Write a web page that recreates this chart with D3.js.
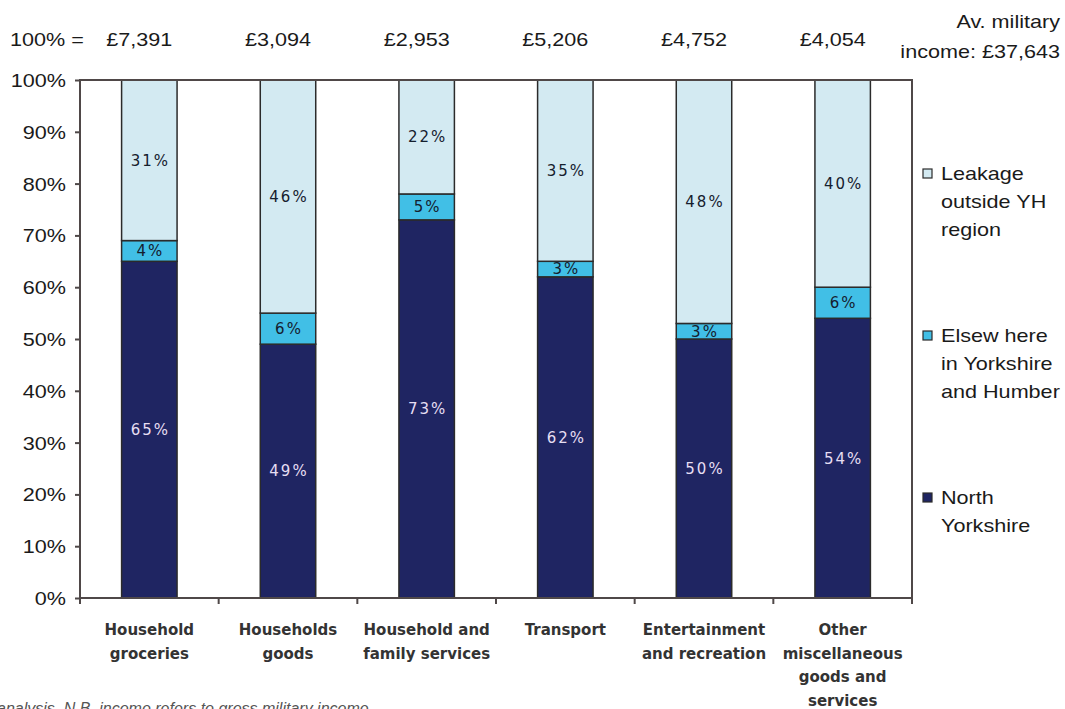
<!DOCTYPE html>
<html>
<head>
<meta charset="utf-8">
<script src="https://cdn.jsdelivr.net/npm/d3@7"></script>
<style>
  html, body { margin: 0; padding: 0; background: #fff; }
  svg { display: block; }
</style>
</head>
<body>
<svg id="chart" width="1065" height="709"></svg>
<script>
// Spending categories (line-wrapped for the axis)
const categories = [
  ["Household", "groceries"],
  ["Households", "goods"],
  ["Household and", "family services"],
  ["Transport"],
  ["Entertainment", "and recreation"],
  ["Other", "miscellaneous", "goods and", "services"]
];
// Annual spend per category (100% of each bar)
const totals = ["£7,391", "£3,094", "£2,953", "£5,206", "£4,752", "£4,054"];
// Share of spend by where it lands (%)
const northYorkshire = [65, 49, 73, 62, 50, 54];
const elsewhereYH = [4, 6, 5, 3, 3, 6];
const leakage = [31, 46, 22, 35, 48, 40];
const yTicks = [0, 10, 20, 30, 40, 50, 60, 70, 80, 90, 100];

const seriesKeys = ["north", "elsewhere", "leakage"];
const seriesNames = {
  leakage: ["Leakage", "outside YH", "region"],
  elsewhere: ["Elsew here", "in Yorkshire", "and Humber"],
  north: ["North", "Yorkshire"]
};
const colors = { north: "#1f2562", elsewhere: "#41bfe6", leakage: "#d3eaf2" };
const labelColors = { north: "#e6def2", elsewhere: "#15202e", leakage: "#15202e" };

const rows = categories.map((c, i) => ({
  idx: i,
  north: northYorkshire[i],
  elsewhere: elsewhereYH[i],
  leakage: leakage[i]
}));

const svg = d3.select("#chart");
const plotLeft = 80, plotRight = 912, plotTop = 80, plotBottom = 598;
const SANS = "Liberation Sans, Arial, sans-serif";
const WIDE = 1.2; // horizontal stretch of the Arial-style texts

// Adds a horizontally stretched text at (x, y)
function wideText(parent, x, y, str, anchor) {
  return parent.append("text")
    .attr("transform", `translate(${x},${y}) scale(${WIDE},1)`)
    .attr("text-anchor", anchor || "start")
    .text(str);
}

const x = d3.scaleBand()
  .domain(rows.map(d => d.idx))
  .range([plotLeft, plotRight])
  .paddingInner(0.6)
  .paddingOuter(0.3);
const y = d3.scaleLinear().domain([0, 100]).range([plotBottom, plotTop]);

svg.append("defs").append("clipPath").attr("id", "plot")
  .append("rect").attr("x", plotLeft).attr("y", plotTop)
  .attr("width", plotRight - plotLeft).attr("height", plotBottom - plotTop);

const stack = d3.stack().keys(seriesKeys)(rows);

const layers = svg.append("g").attr("clip-path", "url(#plot)")
  .selectAll("g").data(stack).join("g");

layers.selectAll("rect").data(s => s.map(p => ({ key: s.key, p })))
  .join("rect")
  .attr("x", d => x(d.p.data.idx))
  .attr("width", x.bandwidth())
  .attr("y", d => y(Math.min(100, d.p[1])))
  .attr("height", d => y(d.p[0]) - y(Math.min(100, d.p[1])))
  .attr("fill", d => colors[d.key])
  .attr("stroke", "#2b2b2b")
  .attr("stroke-width", 1.5);

// Value labels centred in each segment
const labels = svg.append("g")
  .attr("font-family", "DejaVu Sans, Verdana, sans-serif")
  .attr("font-size", 15)
  .attr("letter-spacing", 2)
  .attr("text-anchor", "middle");
stack.forEach(s => {
  s.forEach(p => {
    const segTop = Math.min(100, p[1]);
    labels.append("text")
      .attr("x", x(p.data.idx) + x.bandwidth() / 2 + 1)
      .attr("y", y((p[0] + segTop) / 2))
      .attr("dy", "0.36em")
      .attr("fill", labelColors[s.key])
      .text(p.data[s.key] + "%");
  });
});

// Plot frame
svg.append("rect")
  .attr("x", plotLeft).attr("y", plotTop)
  .attr("width", plotRight - plotLeft).attr("height", plotBottom - plotTop)
  .attr("fill", "none").attr("stroke", "#4f4848").attr("stroke-width", 2);

// Y axis: ticks from the axis generator, labels stretched like the rest
const yAxis = svg.append("g")
  .attr("transform", `translate(${plotLeft},0)`)
  .call(d3.axisLeft(y).tickValues(yTicks).tickFormat(d => d + "%").tickSize(5).tickPadding(8));
yAxis.select(".domain").remove();
yAxis.selectAll(".tick line").attr("stroke", "#4f4848").attr("stroke-width", 2);
yAxis.selectAll(".tick text")
  .attr("font-family", SANS)
  .attr("font-size", 18).attr("fill", "#1a1a1a")
  .attr("x", null).attr("dy", null)
  .attr("transform", `translate(-14,6.5) scale(${WIDE},1)`);

// X axis ticks at category boundaries
const xb = d3.scaleLinear().domain([0, rows.length]).range([plotLeft, plotRight]);
svg.append("g").selectAll("line").data(d3.range(rows.length + 1)).join("line")
  .attr("x1", d => xb(d)).attr("x2", d => xb(d))
  .attr("y1", plotBottom).attr("y2", plotBottom + 6)
  .attr("stroke", "#4f4848").attr("stroke-width", 2);

// Category labels
const catG = svg.append("g")
  .attr("font-family", "DejaVu Sans, Verdana, sans-serif")
  .attr("font-size", 15)
  .attr("font-weight", "bold")
  .attr("fill", "#333")
  .attr("text-anchor", "middle");
categories.forEach((lines, i) => {
  const cx = x(i) + x.bandwidth() / 2;
  const t = catG.append("text").attr("x", cx).attr("y", 635);
  lines.forEach((ln, j) => t.append("tspan")
    .attr("x", cx).attr("dy", j === 0 ? 0 : 23.5).text(ln));
});

// Totals row
const topG = svg.append("g")
  .attr("font-family", SANS)
  .attr("font-size", 18)
  .attr("fill", "#1a1a1a");
wideText(topG, 10, 46, "100% =");
totals.forEach((d, i) => wideText(topG, x(i) + x.bandwidth() / 2 - 10, 46, d, "middle"));
wideText(topG, 1060, 28, "Av. military", "end");
wideText(topG, 1060, 58, "income: £37,643", "end");

// Legend
const legendOrder = ["leakage", "elsewhere", "north"];
const legendY = [174, 336, 498];
const leg = svg.append("g")
  .attr("font-family", SANS)
  .attr("font-size", 18)
  .attr("fill", "#1a1a1a");
legendOrder.forEach((k, i) => {
  leg.append("rect")
    .attr("x", 923).attr("y", legendY[i] - 5)
    .attr("width", 9).attr("height", 9)
    .attr("fill", colors[k]).attr("stroke", "#2b2b2b").attr("stroke-width", 1.2);
  seriesNames[k].forEach((ln, j) => wideText(leg, 941, legendY[i] + 6 + j * 28, ln));
});

// Source note
svg.append("text")
  .attr("x", -3).attr("y", 714)
  .attr("font-family", SANS)
  .attr("font-size", 16).attr("font-style", "italic")
  .attr("fill", "#555")
  .text("analysis. N.B. income refers to gross military income.");
</script>
</body>
</html>
